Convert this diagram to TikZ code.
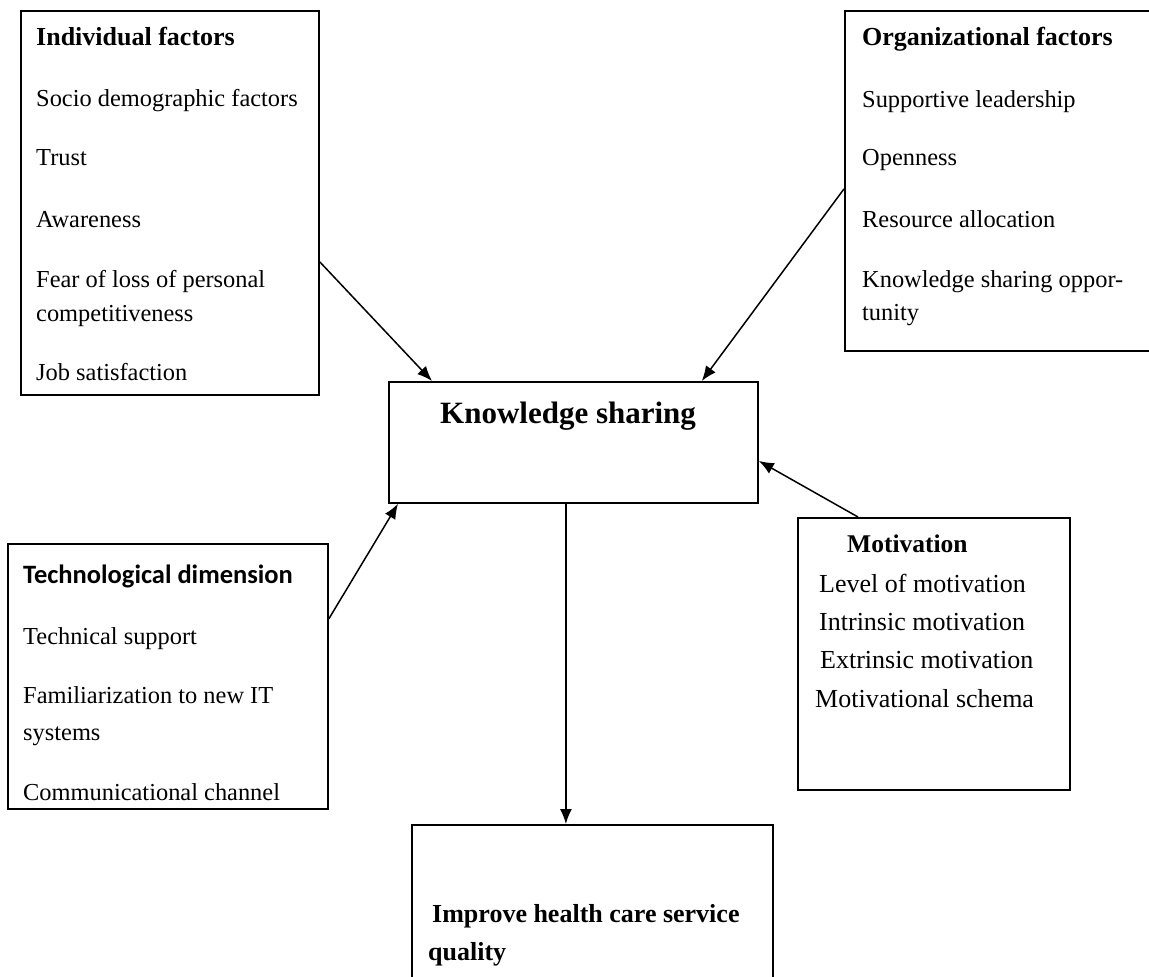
\documentclass[tikz,border=0pt]{standalone}
\usepackage{fontspec}
\setmainfont{Liberation Serif}
\newfontfamily\calfont{Carlito}
\usetikzlibrary{arrows.meta}
\tikzset{
  box/.style={draw, line width=1.8pt, rectangle, anchor=north west, inner sep=0pt},
  itm/.style={anchor=base west, inner sep=0pt, font=\fontsize{24.4pt}{29pt}\selectfont},
  ttl/.style={itm, font=\fontsize{26pt}{31pt}\selectfont\bfseries},
  lnk/.style={line width=1.5pt, -{Latex[length=15pt,width=12pt]}}
}
\begin{document}
\begin{tikzpicture}[x=1pt,y=-1pt]
    \useasboundingbox (0,0) rectangle (1149,977);
    \clip (0,0) rectangle (1149,977);
    % boxes
    \node[box, minimum width=298pt, minimum height=384pt] (indiv) at (20,10) {};
    \node[box, minimum width=330pt, minimum height=340pt] (org) at (844,10) {};
    \node[box, minimum width=369pt, minimum height=121pt] (ks) at (388,381) {};
    \node[box, minimum width=272pt, minimum height=272pt] (mot) at (797,517) {};
    \node[box, minimum width=320pt, minimum height=265pt] (tech) at (7,543) {};
    \node[box, minimum width=361pt, minimum height=180pt] (impr) at (411,824) {};
    % texts
    \node[ttl] (indivT) at (36,45) {Individual factors};
    \foreach \y/\t [count=\k] in {106/Socio demographic factors, 165/Trust, 227/Awareness,
        287/Fear of loss of personal, 321/competitiveness, 380/Job satisfaction}
        \node[itm] (indiv\k) at (36,\y) {\t};
    \node[ttl] (orgT) at (862,45) {Organizational factors};
    \foreach \y/\t [count=\k] in {107/Supportive leadership, 165/Openness, 227/Resource allocation,
        287/Knowledge sharing oppor-, 320/tunity}
        \node[itm] (org\k) at (862,\y) {\t};
    \node[ttl, font=\fontsize{31pt}{36pt}\selectfont\bfseries] (ksT) at (440,423) {Knowledge sharing};
    \node[ttl, font=\fontsize{25.5pt}{30pt}\selectfont\bfseries] (motT) at (847,552) {Motivation};
    \foreach \x/\y/\t [count=\k] in {819/592/Level of motivation, 819/630/Intrinsic motivation,
        820/668/Extrinsic motivation, 815/707/Motivational schema}
        \node[itm, font=\fontsize{26pt}{30pt}\selectfont] (mot\k) at (\x,\y) {\t};
    \node[ttl, font=\calfont\fontsize{26.5pt}{31pt}\selectfont\bfseries] (techT) at (23,583) {Technological dimension};
    \foreach \y/\t [count=\k] in {644/Technical support, 703/Familiarization to new IT,
        740/systems, 800/Communicational channel}
        \node[itm] (tech\k) at (23,\y) {\t};
    \node[ttl] (imprT) at (432,922) {Improve health care service};
    \node[ttl] (imprQ) at (428,960) {quality};
    % arrows
    \draw[lnk] ([yshift=-59pt]indiv.east) -- ([xshift=44pt]ks.north west);
    \draw[lnk] ([yshift=-8pt]org.west) -- ([xshift=-57pt]ks.north east);
    \draw[lnk] ([xshift=61pt]mot.north west) -- ([yshift=-18.5pt]ks.east);
    \draw[lnk] ([yshift=57.5pt]tech.east) -- ([xshift=10pt]ks.south west);
    \draw[lnk] ([xshift=-7.5pt]ks.south) -- ([xshift=-7.5pt]ks.south |- impr.north);
\end{tikzpicture}
\end{document}
